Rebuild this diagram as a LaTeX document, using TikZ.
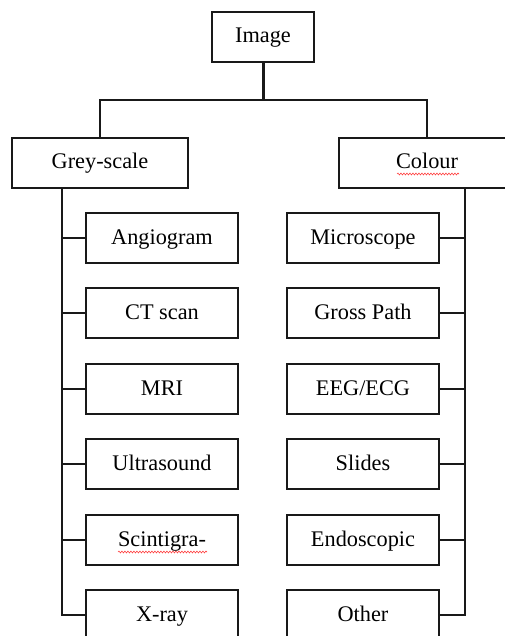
\documentclass[tikz,border=0pt]{standalone}
\usepackage{fontspec}
\setmainfont{Liberation Serif}
\usetikzlibrary{decorations.pathmorphing}
\begin{document}
\begin{tikzpicture}[x=1pt,y=-1pt,
  box/.style={draw=black!90,line width=2pt,inner sep=0pt,minimum height=50pt,text height=16pt,text depth=4pt,font=\fontsize{22.3}{26}\selectfont},
  topbox/.style={box,minimum width=102pt},
  catbox/.style={box,minimum width=176pt},
  leafbox/.style={box,minimum width=152pt},
  conn/.style={line width=2pt,black!90},
  squig/.style={draw=red!75,line width=0.6pt,decorate,decoration={snake,segment length=3pt,amplitude=0.9pt}}]
\clip (0,0) rectangle (505,636);
\fill[white] (0,0) rectangle (505,636);
\node[topbox] (img) at (263,37) {Image};
\node[catbox] (grey) at (100,163) {Grey-scale};
\node[catbox] (col) at (427,163) {Colour};
\coordinate (j) at (263,100);
\draw[conn,line width=3pt] (img.south) -- (j);
\draw[conn] (grey.north) |- (j) -| (col.north);
\foreach \n/\t/\y in {a/Angiogram/238,b/CT scan/313,c/MRI/389,d/Ultrasound/464,e/Scintigra-/540,f/X-ray/615}{
  \node[leafbox] (L\n) at (162,\y) {\t};
}
\foreach \n/\t/\y in {a/Microscope/238,b/Gross Path/313,c/EEG\slash ECG/389,d/Slides/464,e/Endoscopic/540,f/Other/615}{
  \node[leafbox] (R\n) at (363,\y) {\t};
}
\coordinate (lt) at (62,188);
\coordinate (rt) at (465,188);
\draw[conn] (lt) |- (Lf.west);
\draw[conn] (rt) |- (Rf.east);
\foreach \n in {a,b,c,d,e}{
  \draw[conn] (lt |- L\n.west) -- (L\n.west);
  \draw[conn] (rt |- R\n.east) -- (R\n.east);
}
\draw[squig] (397,174) -- (459,174);
\draw[squig] (118,552) -- (207,552);
\end{tikzpicture}
\end{document}
